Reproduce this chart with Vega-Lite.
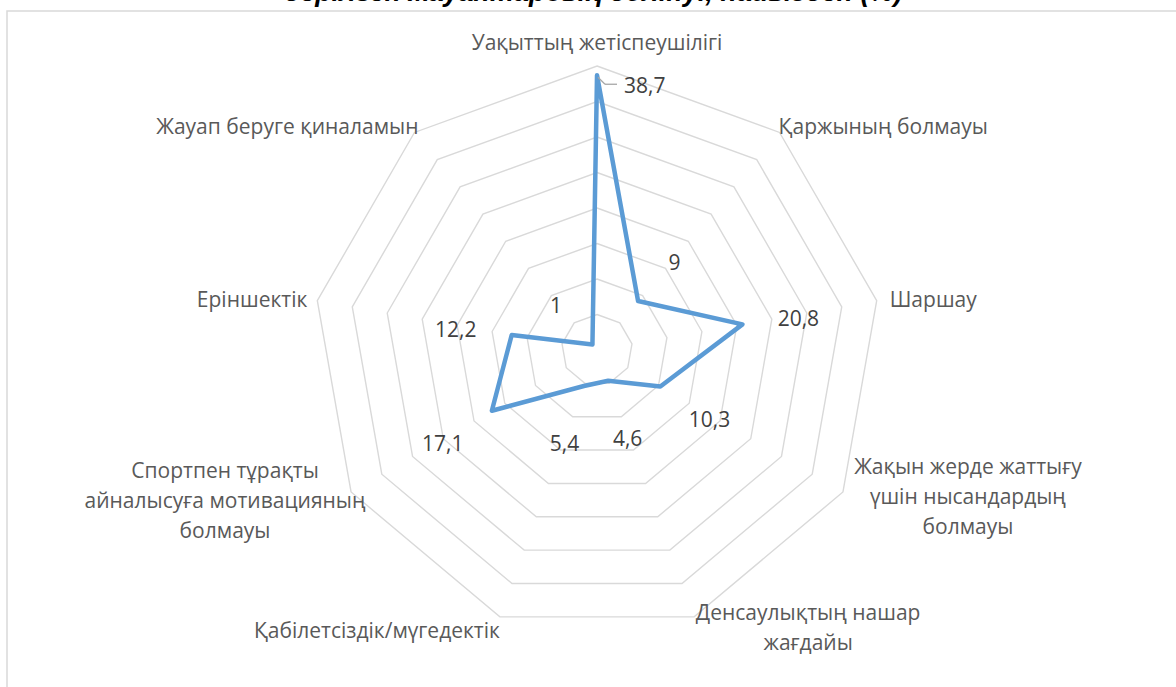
{
  "$schema": "https://vega.github.io/schema/vega-lite/v6.json",
  "width": 1172,
  "height": 679,
  "autosize": {"type": "none"},
  "padding": {"left": 7, "top": 11, "right": -3, "bottom": -3},
  "background": "white",
  "title": {
    "text": "берілген жауаптардың бөлінуі, пайызбен (%)",
    "font": "Liberation Sans",
    "fontSize": 27,
    "fontWeight": "bold",
    "fontStyle": "italic",
    "color": "#000000",
    "anchor": "middle",
    "frame": "group",
    "baseline": "alphabetic",
    "offset": -17
  },
  "config": {
    "view": {"stroke": "#d9d9d9", "strokeWidth": 1.5},
    "locale": {"number": {"decimal": ",", "thousands": " ", "grouping": [3], "currency": ["", ""]}}
  },
  "datasets": {
    "main": [
      {"idx": 0, "category": "Уақыттың жетіспеушілігі", "value": 38.7},
      {"idx": 1, "category": "Қаржының болмауы", "value": 9},
      {"idx": 2, "category": "Шаршау", "value": 20.8},
      {"idx": 3, "category": "Жақын жерде жаттығу\nүшін нысандардың\nболмауы", "value": 10.3},
      {"idx": 4, "category": "Денсаулықтың нашар\nжағдайы", "value": 4.6},
      {"idx": 5, "category": "Қабілетсіздік/мүгедектік", "value": 5.4},
      {"idx": 6, "category": "Спортпен тұрақты\nайналысуға мотивацияның\nболмауы", "value": 17.1},
      {"idx": 7, "category": "Еріншектік", "value": 12.2},
      {"idx": 8, "category": "Жауап беруге қиналамын", "value": 1}
    ],
    "rings": [
      {"level": 5, "k": [0, 1, 2, 3, 4, 5, 6, 7, 8]},
      {"level": 10, "k": [0, 1, 2, 3, 4, 5, 6, 7, 8]},
      {"level": 15, "k": [0, 1, 2, 3, 4, 5, 6, 7, 8]},
      {"level": 20, "k": [0, 1, 2, 3, 4, 5, 6, 7, 8]},
      {"level": 25, "k": [0, 1, 2, 3, 4, 5, 6, 7, 8]},
      {"level": 30, "k": [0, 1, 2, 3, 4, 5, 6, 7, 8]},
      {"level": 35, "k": [0, 1, 2, 3, 4, 5, 6, 7, 8]},
      {"level": 40, "k": [0, 1, 2, 3, 4, 5, 6, 7, 8]}
    ]
  },
  "data": {"name": "main"},
  "transform": [
    {"calculate": "datum.idx * 2 * PI / 9", "as": "theta"},
    {"calculate": "datum.value * sin(datum.theta)", "as": "px"},
    {"calculate": "datum.value * cos(datum.theta)", "as": "py"},
    {"calculate": "(datum.value + 8) * sin(datum.theta)", "as": "lx"},
    {"calculate": "(datum.value + 8) * cos(datum.theta)", "as": "ly"},
    {"calculate": "40 * sin(datum.theta)", "as": "ax"},
    {"calculate": "40 * cos(datum.theta)", "as": "ay"}
  ],
  "layer": [
    {
      "data": {"name": "rings"},
      "transform": [
        {"flatten": ["k"]},
        {"calculate": "datum.level * sin(datum.k * 2 * PI / 9)", "as": "gx"},
        {"calculate": "datum.level * cos(datum.k * 2 * PI / 9)", "as": "gy"}
      ],
      "mark": {"type": "line", "interpolate": "linear-closed", "stroke": "#d9d9d9", "strokeWidth": 1.4},
      "encoding": {
        "x": {"field": "gx", "type": "quantitative", "scale": {"domain": [-83.1, 81.97], "nice": false, "zero": false}, "axis": null},
        "y": {"field": "gy", "type": "quantitative", "scale": {"domain": [-47.89, 47.75], "nice": false, "zero": false}, "axis": null},
        "detail": {"field": "level", "type": "nominal"},
        "order": {"field": "k", "type": "quantitative"}
      }
    },
    {
      "mark": {"type": "line", "interpolate": "linear-closed", "stroke": "#5b9bd5", "strokeWidth": 4.5, "strokeJoin": "round", "strokeCap": "round"},
      "encoding": {
        "x": {"field": "px", "type": "quantitative"},
        "y": {"field": "py", "type": "quantitative"},
        "order": {"field": "idx", "type": "quantitative"}
      }
    },
    {
      "transform": [{"filter": "datum.idx == 0"}],
      "mark": {"type": "rule", "stroke": "#a6a6a6", "strokeWidth": 1.3, "xOffset": 1, "yOffset": 2, "x2Offset": 8, "y2Offset": 9},
      "encoding": {
        "x": {"field": "px", "type": "quantitative"},
        "y": {"field": "py", "type": "quantitative"},
        "x2": {"field": "px"},
        "y2": {"field": "py"}
      }
    },
    {
      "transform": [{"filter": "datum.idx == 0"}],
      "mark": {"type": "rule", "stroke": "#a6a6a6", "strokeWidth": 1.3, "xOffset": 8, "yOffset": 9, "x2Offset": 20, "y2Offset": 9},
      "encoding": {
        "x": {"field": "px", "type": "quantitative"},
        "y": {"field": "py", "type": "quantitative"},
        "x2": {"field": "px"},
        "y2": {"field": "py"}
      }
    },
    {
      "transform": [{"filter": "datum.idx == 0"}],
      "mark": {"type": "text", "align": "left", "baseline": "middle", "dx": 27, "dy": 12, "font": "Open Sans", "fontSize": 21, "fill": "#404040"},
      "encoding": {
        "x": {"field": "px", "type": "quantitative"},
        "y": {"field": "py", "type": "quantitative"},
        "text": {"field": "value", "type": "quantitative", "format": "~g"}
      }
    },
    {
      "transform": [{"filter": "datum.idx > 0"}],
      "mark": {"type": "text", "align": "center", "baseline": "middle", "dy": 6, "font": "Open Sans", "fontSize": 21, "fill": "#404040"},
      "encoding": {
        "x": {"field": "lx", "type": "quantitative"},
        "y": {"field": "ly", "type": "quantitative"},
        "text": {"field": "value", "type": "quantitative", "format": "~g"}
      }
    },
    {
      "transform": [{"filter": "datum.idx == 0"}],
      "mark": {"type": "text", "align": "center", "baseline": "middle", "dy": -22, "font": "Open Sans", "fontSize": 21, "fill": "#595959"},
      "encoding": {"x": {"field": "ax", "type": "quantitative"}, "y": {"field": "ay", "type": "quantitative"}, "text": {"field": "category"}}
    },
    {
      "transform": [{"filter": "datum.idx == 1"}],
      "mark": {"type": "text", "align": "left", "baseline": "middle", "dx": -1, "dy": -4, "font": "Open Sans", "fontSize": 21, "fill": "#595959"},
      "encoding": {"x": {"field": "ax", "type": "quantitative"}, "y": {"field": "ay", "type": "quantitative"}, "text": {"field": "category"}}
    },
    {
      "transform": [{"filter": "datum.idx == 2"}],
      "mark": {"type": "text", "align": "left", "baseline": "middle", "dx": 13, "dy": 0, "font": "Open Sans", "fontSize": 21, "fill": "#595959"},
      "encoding": {"x": {"field": "ax", "type": "quantitative"}, "y": {"field": "ay", "type": "quantitative"}, "text": {"field": "category"}}
    },
    {
      "transform": [{"filter": "datum.idx == 3"}],
      "mark": {"type": "text", "align": "center", "baseline": "middle", "lineBreak": "\n", "lineHeight": 30, "dx": 125, "dy": -24, "font": "Open Sans", "fontSize": 21, "fill": "#595959"},
      "encoding": {"x": {"field": "ax", "type": "quantitative"}, "y": {"field": "ay", "type": "quantitative"}, "text": {"field": "category"}}
    },
    {
      "transform": [{"filter": "datum.idx == 4"}],
      "mark": {"type": "text", "align": "center", "baseline": "middle", "lineBreak": "\n", "lineHeight": 30, "dx": 114, "dy": -3, "font": "Open Sans", "fontSize": 21, "fill": "#595959"},
      "encoding": {"x": {"field": "ax", "type": "quantitative"}, "y": {"field": "ay", "type": "quantitative"}, "text": {"field": "category"}}
    },
    {
      "transform": [{"filter": "datum.idx == 5"}],
      "mark": {"type": "text", "align": "right", "baseline": "middle", "dx": 0, "dy": 15, "font": "Open Sans", "fontSize": 21, "fill": "#595959"},
      "encoding": {"x": {"field": "ax", "type": "quantitative"}, "y": {"field": "ay", "type": "quantitative"}, "text": {"field": "category"}}
    },
    {
      "transform": [{"filter": "datum.idx == 6"}],
      "mark": {"type": "text", "align": "center", "baseline": "middle", "lineBreak": "\n", "lineHeight": 30, "dx": -126, "dy": -20, "font": "Open Sans", "fontSize": 21, "fill": "#595959"},
      "encoding": {"x": {"field": "ax", "type": "quantitative"}, "y": {"field": "ay", "type": "quantitative"}, "text": {"field": "category"}}
    },
    {
      "transform": [{"filter": "datum.idx == 7"}],
      "mark": {"type": "text", "align": "right", "baseline": "middle", "dx": -10, "dy": 0, "font": "Open Sans", "fontSize": 21, "fill": "#595959"},
      "encoding": {"x": {"field": "ax", "type": "quantitative"}, "y": {"field": "ay", "type": "quantitative"}, "text": {"field": "category"}}
    },
    {
      "transform": [{"filter": "datum.idx == 8"}],
      "mark": {"type": "text", "align": "right", "baseline": "middle", "dx": 4, "dy": -4, "font": "Open Sans", "fontSize": 21, "fill": "#595959"},
      "encoding": {"x": {"field": "ax", "type": "quantitative"}, "y": {"field": "ay", "type": "quantitative"}, "text": {"field": "category"}}
    }
  ]
}
